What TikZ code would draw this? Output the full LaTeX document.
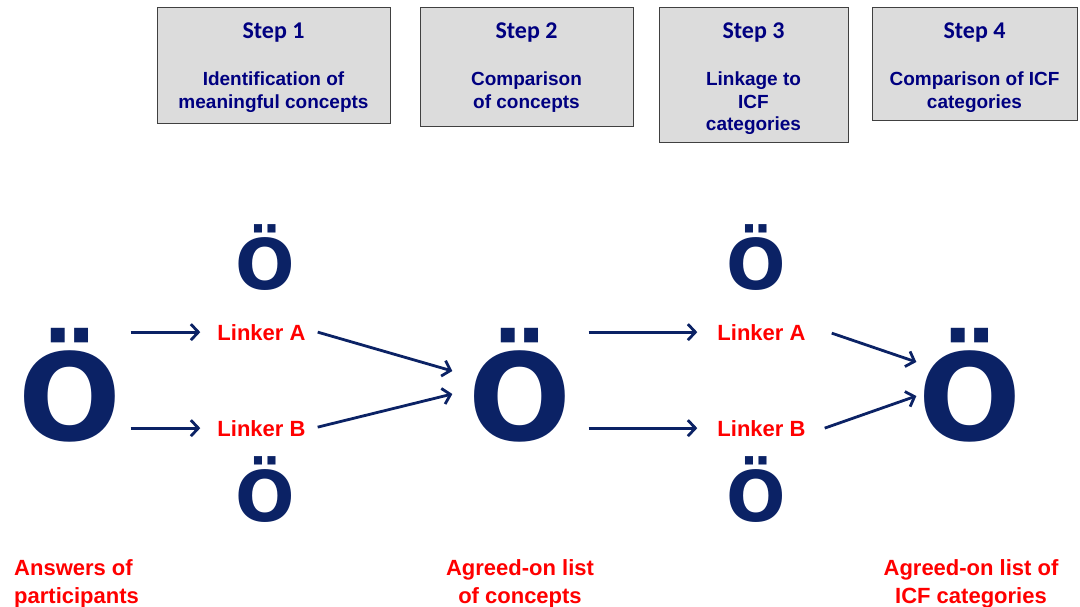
\documentclass[tikz,border=0pt]{standalone}
\usepackage{fontspec}
\setmainfont{Liberation Sans}
\newfontfamily\calibfont{Carlito}
\newfontfamily\glyphfont{DejaVu Sans}
\usetikzlibrary{arrows.meta,calc}
\definecolor{navytext}{RGB}{0,0,128}
\definecolor{glyphblue}{RGB}{11,34,101}
\definecolor{boxgray}{RGB}{220,220,220}
\definecolor{boxline}{RGB}{64,64,64}
\definecolor{linkred}{RGB}{255,0,0}
\newcommand{\steptitle}[1]{{\calibfont\bfseries\fontsize{24}{24}\selectfont #1}}
\begin{document}
\begin{tikzpicture}[x=1pt,y=-1pt,
  stepbox/.style={draw=boxline, line width=1pt, fill=boxgray, inner sep=0pt},
  steptext/.style={align=center, text=navytext, font=\bfseries\fontsize{19}{22.5}\selectfont,
    inner sep=0pt, anchor=base},
  bigglyph/.style={text=glyphblue, font=\glyphfont\bfseries\fontsize{121}{121}\selectfont,
    inner sep=0pt, anchor=base},
  smallglyph/.style={text=glyphblue, font=\glyphfont\bfseries\fontsize{70}{70}\selectfont,
    inner sep=0pt, anchor=base},
  linker/.style={text=linkred, font=\bfseries\fontsize{22}{26}\selectfont,
    inner sep=0pt, anchor=base},
  caption/.style={text=linkred, font=\bfseries\fontsize{22}{28}\selectfont,
    inner sep=0pt, anchor=base},
  arr/.style={draw=glyphblue, line width=2.8pt,
    -{Straight Barb[length=7.5pt,width=16pt,line width=2.8pt]}}]
\useasboundingbox (0,0) rectangle (1080,607);

% step boxes and their texts
\node[stepbox, minimum width=233, minimum height=116] (s1) at (273.5,66) {};
\node[stepbox, minimum width=213, minimum height=119] (s2) at (526.5,67.5) {};
\node[stepbox, minimum width=189, minimum height=135] (s3) at (753.5,75.5) {};
\node[stepbox, minimum width=205, minimum height=113] (s4) at (974.5,64.5) {};
\node[steptext] (t1) at (s1 |- 0,108.5)
  {\steptitle{Step 1}\\[24.5pt]Identification of\\meaningful concepts};
\node[steptext] (t2) at (s2 |- 0,108.5)
  {\steptitle{Step 2}\\[24.5pt]Comparison\\of concepts};
\node[steptext] (t3) at (s3 |- 0,131)
  {\steptitle{Step 3}\\[24.5pt]Linkage to\\ICF\\categories};
\node[steptext] (t4) at (s4 |- 0,108.5)
  {\steptitle{Step 4}\\[24.5pt]Comparison of ICF\\categories};

% large glyphs
\node[bigglyph] (o1) at (70,440) {Ö};
\node[bigglyph] (o2) at (520,440) {Ö};
\node[bigglyph] (o3) at (970,440) {Ö};

% small glyphs
\node[smallglyph] (ta1) at (265,289) {Ö};
\node[smallglyph] (tb1) at (265,521) {Ö};
\node[smallglyph] (ta2) at (756,289) {Ö};
\node[smallglyph] (tb2) at (756,521) {Ö};

% linkers
\node[linker] (la1) at (261.5,340) {Linker A};
\node[linker] (lb1) at (261.5,436) {Linker B};
\node[linker] (la2) at (761.5,340) {Linker A};
\node[linker] (lb2) at (761.5,436) {Linker B};

% captions
\node[caption, anchor=base west, align=left] (c1) at (14,603) {Answers of\\participants};
\node[caption, align=center] (c2) at (520,603) {Agreed-on list\\of concepts};
\node[caption, align=center] (c3) at (971,603) {Agreed-on list of\\ICF categories};

% connectors
\draw[arr, shorten <=9pt, shorten >=17pt] (o1.east |- la1.west) -- (la1.west);
\draw[arr, shorten <=9pt, shorten >=17pt] (o1.east |- lb1.west) -- (lb1.west);
\draw[arr] ($(la1.east)+(12,0)$) -- ($(o2.base west)+(-16,-69)$);
\draw[arr] ($(lb1.east)+(12,-1)$) -- ($(o2.base west)+(-16,-46)$);
\draw[arr, shorten <=17pt, shorten >=20pt] (o2.east |- la2.west) -- (la2.west);
\draw[arr, shorten <=17pt, shorten >=20pt] (o2.east |- lb2.west) -- (lb2.west);
\draw[arr] ($(la2.east)+(26,1)$) -- ($(o3.base west)+(-2,-78)$);
\draw[arr] ($(lb2.east)+(19,0)$) -- ($(o3.base west)+(-2,-44)$);
\end{tikzpicture}
\end{document}
